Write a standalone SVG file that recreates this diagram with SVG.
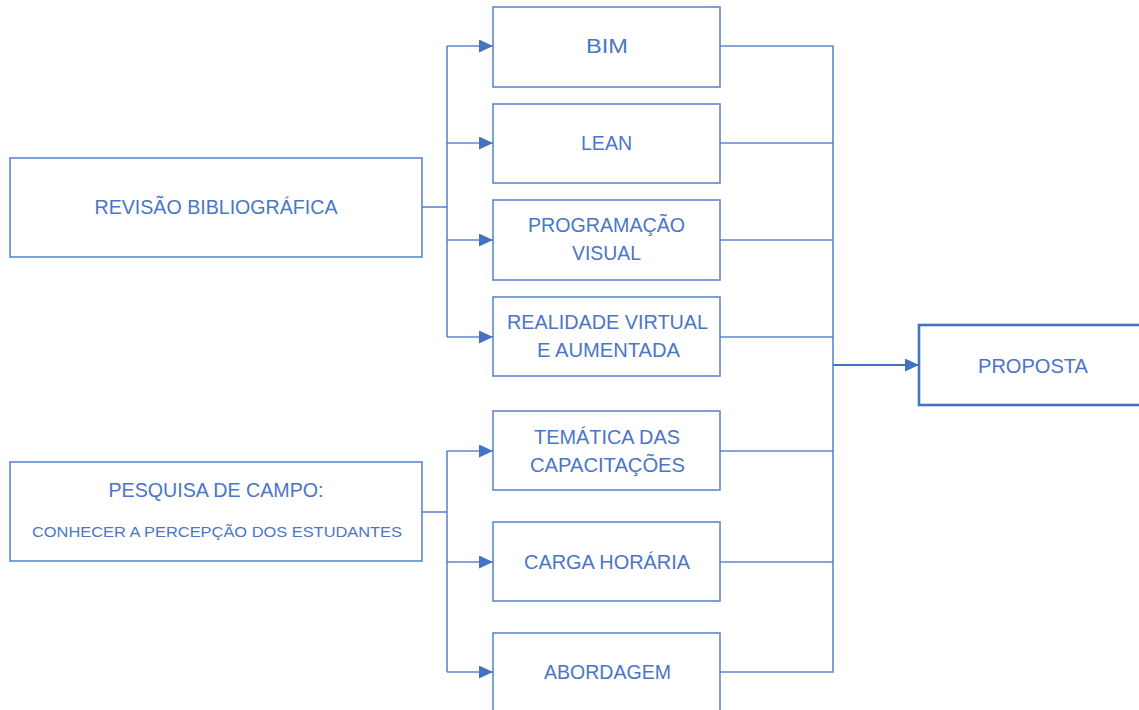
<svg xmlns="http://www.w3.org/2000/svg" width="1139" height="710" viewBox="0 0 1139 710">
<style>
.box{fill:#fff;stroke:#4472C4;stroke-width:1.6;stroke-opacity:0.85}
.big{fill:#fff;stroke:#4472C4;stroke-width:2.6}
.t{font-family:"Liberation Sans",Arial,sans-serif;font-size:20px;fill:#4A76C6;text-anchor:middle}
.s{font-size:15px}
.c{fill:none;stroke:#4472C4;stroke-width:1.6;stroke-opacity:0.85}
.ca{fill:none;stroke:#4472C4;stroke-width:2}
</style>
<defs>
<marker id="ah" markerWidth="14" markerHeight="13" refX="14" refY="6.5" orient="auto" markerUnits="userSpaceOnUse">
<path d="M0,0 L14,6.5 L0,13 Z" fill="#4472C4"/>
</marker>
</defs>
<rect width="1139" height="710" fill="#fff"/>
<g id="connectors">
<path class="c" d="M422,207 H447"/>
<path class="c" d="M447,46 V337"/>
<path class="c" d="M447,46 H493" marker-end="url(#ah)"/>
<path class="c" d="M447,143 H493" marker-end="url(#ah)"/>
<path class="c" d="M447,240 H493" marker-end="url(#ah)"/>
<path class="c" d="M447,337 H493" marker-end="url(#ah)"/>
<path class="c" d="M422,512 H447"/>
<path class="c" d="M447,451 V672"/>
<path class="c" d="M447,451 H493" marker-end="url(#ah)"/>
<path class="c" d="M447,562 H493" marker-end="url(#ah)"/>
<path class="c" d="M447,672 H493" marker-end="url(#ah)"/>
<path class="c" d="M720,46 H833 V672 H720"/>
<path class="c" d="M720,143 H833"/>
<path class="c" d="M720,240 H833"/>
<path class="c" d="M720,337 H833"/>
<path class="c" d="M720,451 H833"/>
<path class="c" d="M720,562 H833"/>
<path class="ca" d="M833,365 H919" marker-end="url(#ah)"/>
</g>
<g id="revisao">
<rect class="box" x="10" y="158" width="412" height="99"/>
<text class="t" x="216" y="214" textLength="243" lengthAdjust="spacingAndGlyphs">REVISÃO BIBLIOGRÁFICA</text>
</g>
<g id="pesquisa">
<rect class="box" x="10" y="462" width="412" height="99"/>
<text class="t" x="216" y="497" textLength="215" lengthAdjust="spacingAndGlyphs">PESQUISA DE CAMPO:</text>
<text class="t s" x="217" y="537" textLength="370" lengthAdjust="spacingAndGlyphs">CONHECER A PERCEPÇÃO DOS ESTUDANTES</text>
</g>
<g id="bim">
<rect class="box" x="493" y="7" width="227" height="80"/>
<text class="t" x="607" y="53" textLength="42" lengthAdjust="spacingAndGlyphs">BIM</text>
</g>
<g id="lean">
<rect class="box" x="493" y="104" width="227" height="79"/>
<text class="t" x="606.5" y="150" textLength="51" lengthAdjust="spacingAndGlyphs">LEAN</text>
</g>
<g id="programacao">
<rect class="box" x="493" y="200" width="227" height="80"/>
<text class="t" x="606.5" y="232" textLength="157" lengthAdjust="spacingAndGlyphs">PROGRAMAÇÃO</text>
<text class="t" x="606.5" y="260" textLength="69" lengthAdjust="spacingAndGlyphs">VISUAL</text>
</g>
<g id="realidade">
<rect class="box" x="493" y="297" width="227" height="79"/>
<text class="t" x="607.5" y="329" textLength="201" lengthAdjust="spacingAndGlyphs">REALIDADE VIRTUAL</text>
<text class="t" x="608.5" y="357" textLength="143" lengthAdjust="spacingAndGlyphs">E AUMENTADA</text>
</g>
<g id="tematica">
<rect class="box" x="493" y="411" width="227" height="79"/>
<text class="t" x="607" y="444" textLength="146" lengthAdjust="spacingAndGlyphs">TEMÁTICA DAS</text>
<text class="t" x="607.5" y="472" textLength="155" lengthAdjust="spacingAndGlyphs">CAPACITAÇÕES</text>
</g>
<g id="carga">
<rect class="box" x="493" y="522" width="227" height="79"/>
<text class="t" x="607" y="569" textLength="166" lengthAdjust="spacingAndGlyphs">CARGA HORÁRIA</text>
</g>
<g id="abordagem">
<rect class="box" x="493" y="633" width="227" height="90"/>
<text class="t" x="607.5" y="679" textLength="127" lengthAdjust="spacingAndGlyphs">ABORDAGEM</text>
</g>
<g id="proposta">
<rect class="big" x="919" y="325" width="230" height="80"/>
<text class="t" x="1033" y="373" textLength="110" lengthAdjust="spacingAndGlyphs">PROPOSTA</text>
</g>
</svg>
